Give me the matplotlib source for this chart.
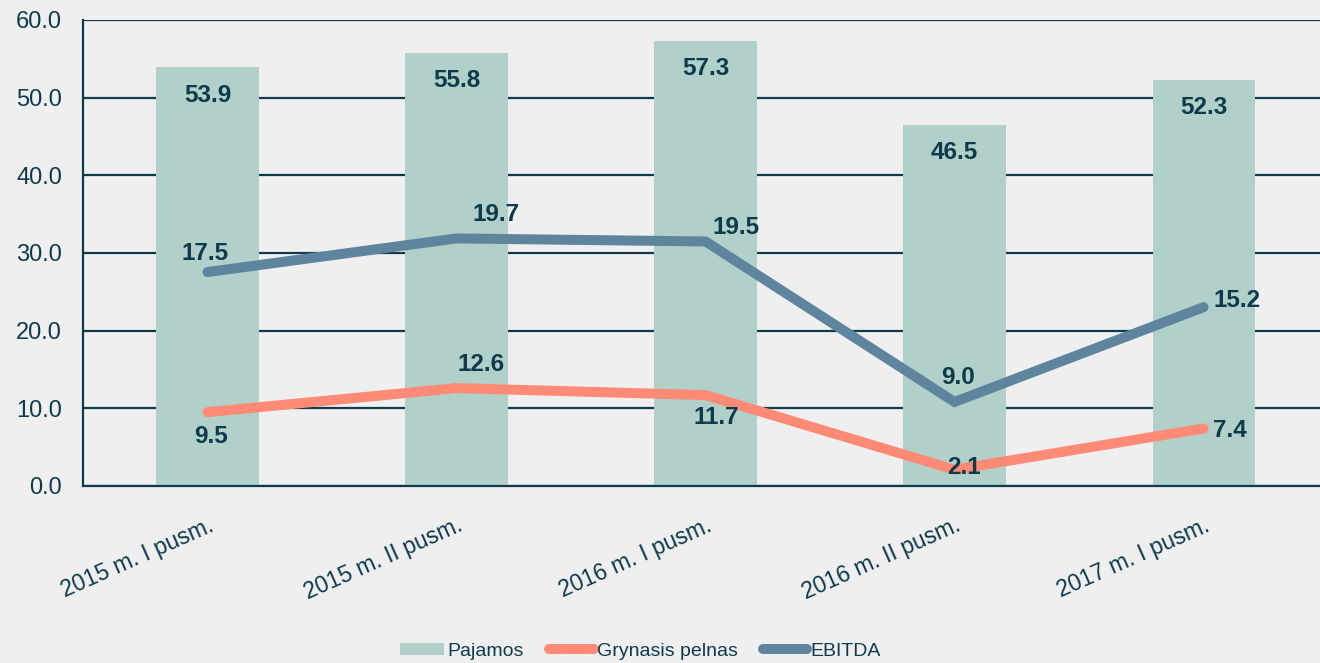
import matplotlib
matplotlib.use("Agg")
from matplotlib import pyplot as plt
from matplotlib.patches import Patch
from matplotlib.lines import Line2D

categories = ["2015 m. I pusm.", "2015 m. II pusm.", "2016 m. I pusm.",
              "2016 m. II pusm.", "2017 m. I pusm."]
pajamos = [53.9, 55.8, 57.3, 46.5, 52.3]
grynasis = [9.5, 12.6, 11.7, 2.1, 7.4]
ebitda = [17.5, 19.7, 19.5, 9.0, 15.2]
y_ticks = [0, 10, 20, 30, 40, 50, 60]

BG = "#efefef"
BAR = "#b0d0c9"
SALMON = "#ff8a75"
BLUE = "#5f859e"
DARK = "#0e3a4c"

# label offsets in pixels (dx, dy) relative to each point
gry_off = [(3, -24), (25, 24), (11, -22), (9, 2), (26, -2)]
ebi_off = [(-2, 19), (40, 24), (31, 14), (3, 24), (34, 7)]

plt.rcParams["font.family"] = ["Liberation Sans", "DejaVu Sans"]

fig = plt.figure(figsize=(13.2, 6.63), dpi=100, facecolor=BG)
ax = fig.add_axes([0.0629, 0.267, 0.9432, 0.703])
ax.set_facecolor(BG)
x = list(range(len(categories)))

ax.bar(x, pajamos, width=0.41, color=BAR, zorder=2)
for xi, v in zip(x, pajamos):
    ax.annotate(f"{v:.1f}", (xi, v), xytext=(0, -28), textcoords="offset pixels",
                ha="center", va="center", fontsize=17.5, fontweight="bold",
                color=DARK, zorder=5)

ax.plot(x, grynasis, color=SALMON, lw=7.2, solid_capstyle="round",
        solid_joinstyle="miter", zorder=3)
for xi, v, (dx, dy) in zip(x, grynasis, gry_off):
    ax.annotate(f"{v:.1f}", (xi, v), xytext=(dx, dy), textcoords="offset pixels",
                ha="center", va="center", fontsize=17.5, fontweight="bold",
                color=DARK, zorder=5)

ax.set_xlim(-0.5, 4.5)
ax.set_ylim(0, 60)
ax.set_yticks(y_ticks)
ax.set_yticklabels([f"{t:.1f}" for t in y_ticks], fontsize=17, color=DARK)
ax.set_xticks(x)
ax.set_xticklabels(categories, fontsize=16.5, color=DARK, rotation=24,
                   ha="right", va="top", rotation_mode="anchor")
ax.tick_params(axis="both", length=0)
ax.tick_params(axis="y", pad=15)
ax.tick_params(axis="x", pad=20)
ax.yaxis.grid(True, color=DARK, lw=1.6, zorder=1)
ax.set_axisbelow(True)
for s in ["top", "right"]:
    ax.spines[s].set_visible(False)
for s in ["left", "bottom"]:
    ax.spines[s].set_color(DARK)
    ax.spines[s].set_linewidth(1.6)

# EBITDA sits on its own hidden secondary scale
ax2 = ax.twinx()
ax2.set_ylim(3.5, 34.0)
ax2.axis("off")
ax2.plot(x, ebitda, color=BLUE, lw=7.2, solid_capstyle="round",
         solid_joinstyle="miter", zorder=3)
for xi, v, (dx, dy) in zip(x, ebitda, ebi_off):
    ax2.annotate(f"{v:.1f}", (xi, v), xytext=(dx, dy), textcoords="offset pixels",
                 ha="center", va="center", fontsize=17.5, fontweight="bold",
                 color=DARK, zorder=5)

handles = [
    Patch(facecolor=BAR, edgecolor="none"),
    Line2D([], [], color=SALMON, lw=7.2, solid_capstyle="round"),
    Line2D([], [], color=BLUE, lw=7.2, solid_capstyle="round"),
]
fig.legend(handles, ["Pajamos", "Grynasis pelnas", "EBITDA"], loc="center",
           bbox_to_anchor=(0.485, 0.018), ncol=3, frameon=False, fontsize=14,
           handlelength=2.3, handleheight=0.6, handletextpad=0.15,
           columnspacing=1.3, labelcolor=DARK)

fig.savefig("out.png", dpi=100, facecolor=BG)
